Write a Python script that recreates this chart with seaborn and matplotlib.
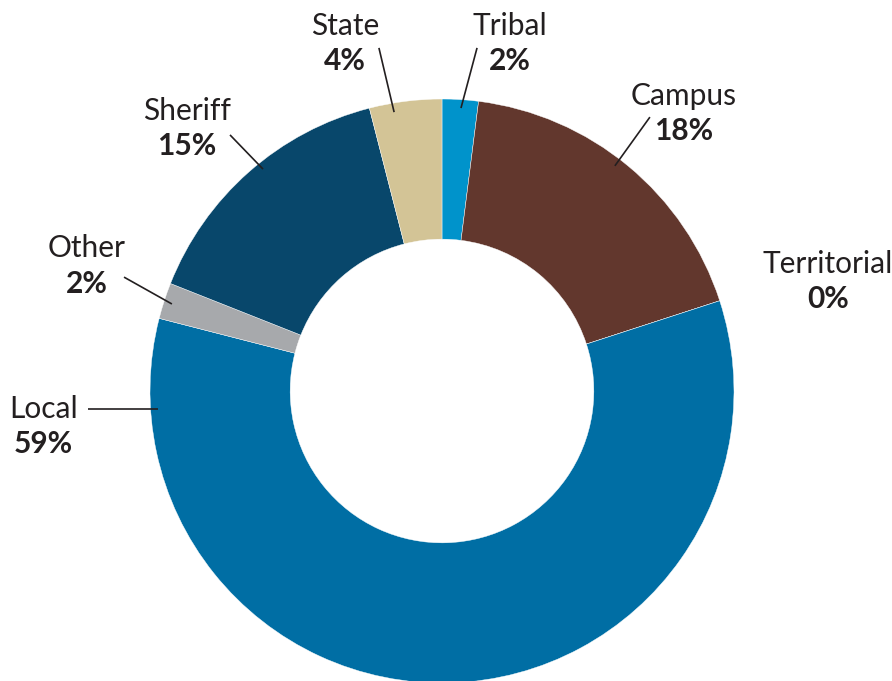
import matplotlib
matplotlib.use("Agg")
import matplotlib.pyplot as plt
import seaborn as sns

# Share of agencies by type (percent), clockwise from the top
agency_types = ["Tribal", "Campus", "Territorial", "Local", "Other", "Sheriff", "State"]
shares = [2, 18, 0, 59, 2, 15, 4]
share_labels = ["2%", "18%", "0%", "59%", "2%", "15%", "4%"]

slice_colors = ["#0093CB", "#62372D", "#5A6B7A", "#006EA4", "#A7A9AC", "#08476B", "#D3C496"]

sns.set_theme(style="white")
plt.rcParams["font.family"] = ["Lato", "DejaVu Sans"]

fig = plt.figure(figsize=(8.92, 6.81), dpi=100)
ax = fig.add_axes([0, 0, 1, 1])

palette = sns.color_palette(slice_colors)
ax.pie(shares, colors=palette, startangle=90, counterclock=False,
       radius=1.0, wedgeprops=dict(width=0.48, linewidth=0.3, edgecolor="white"))

ax.set_xlim(-442 / 292, 450 / 292)
ax.set_ylim(-290 / 292, 391 / 292)
ax.set_aspect("equal", adjustable="box")
ax.axis("off")

# Label layout: (x, name baseline, pct baseline, leader line or None)
label_layout = {
    "Tribal": (0.233, 1.219, 1.099, ((0.120, 1.175), (0.065, 0.969))),
    "Campus": (0.829, 0.979, 0.860, ((0.712, 0.938), (0.592, 0.771))),
    "Territorial": (1.322, 0.404, 0.284, None),
    "Local": (-1.366, -0.092, -0.212, ((-1.212, -0.062), (-0.973, -0.062))),
    "Other": (-1.216, 0.459, 0.336, ((-1.089, 0.390), (-0.925, 0.298))),
    "Sheriff": (-0.873, 0.928, 0.808, ((-0.726, 0.877), (-0.613, 0.760))),
    "State": (-0.332, 1.219, 1.099, ((-0.216, 1.175), (-0.164, 0.955))),
}

text_color = "#231F20"
for name, pct in zip(agency_types, share_labels):
    x, yn, yp, line = label_layout[name]
    ax.text(x, yn, name, ha="center", va="baseline", fontsize=21.5, color=text_color)
    ax.text(x, yp, pct, ha="center", va="baseline", fontsize=21.5,
            fontweight="bold", color=text_color)
    if line is not None:
        (x0, y0), (x1, y1) = line
        ax.plot([x0, x1], [y0, y1], color=text_color, linewidth=1.2,
                solid_capstyle="butt")

fig.savefig("out.png", dpi=100, facecolor="white")
